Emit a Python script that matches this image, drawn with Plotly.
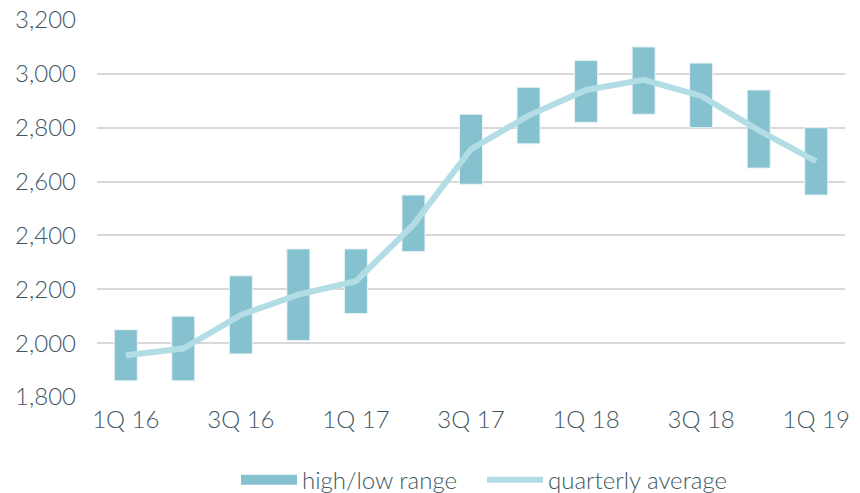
import plotly.graph_objects as go

categories = ["1Q 16", "2Q 16", "3Q 16", "4Q 16", "1Q 17", "2Q 17", "3Q 17",
              "4Q 17", "1Q 18", "2Q 18", "3Q 18", "4Q 18", "1Q 19"]
low = [1860, 1860, 1960, 2010, 2110, 2340, 2590, 2740, 2820, 2850, 2800, 2650, 2550]
high = [2050, 2100, 2250, 2350, 2350, 2550, 2850, 2950, 3050, 3100, 3040, 2940, 2800]
average = [1955, 1980, 2105, 2180, 2230, 2440, 2720, 2845, 2940, 2978, 2918, 2790, 2675]
tick_labels = categories[::2]

BAR = "#86c1cf"
LINE = "#b3dde4"
TEXT = "#3e5863"
FONT = "Lato"

fig = go.Figure()
fig.add_trace(go.Bar(
    x=categories, y=[h - l for h, l in zip(high, low)], base=low,
    name="high/low range", marker=dict(color=BAR, line=dict(color="#e8f4f7", width=1)),
    width=0.4, showlegend=False,
))
# legend swatch for the range bars (wide rectangle like the reference)
fig.add_trace(go.Scatter(
    x=[None], y=[None], name="high/low range", mode="lines",
    line=dict(color=BAR, width=16), legend="legend",
))
fig.add_trace(go.Scatter(
    x=categories, y=average, name="quarterly average", mode="lines",
    line=dict(color=LINE, width=6), legend="legend2",
))

legend_common = dict(
    orientation="h", xref="container", xanchor="left",
    y=0.026, yref="container", yanchor="middle",
    font=dict(size=24, color=TEXT, weight=300), itemwidth=56,
    bgcolor="rgba(0,0,0,0)",
)

fig.update_layout(
    width=860, height=493,
    margin=dict(l=97, r=15, t=20, b=96, autoexpand=False),
    plot_bgcolor="white", paper_bgcolor="white",
    font=dict(family=FONT, size=24, color=TEXT, weight=300),
    showlegend=True,
    legend=dict(x=236 / 860, **legend_common),
    legend2=dict(x=482 / 860, **legend_common),
    bargap=0.6,
)
fig.update_xaxes(
    type="category", tickvals=tick_labels, ticktext=tick_labels,
    showgrid=False, showline=False, zeroline=False, ticks="",
    ticklabelstandoff=6, range=[-0.5, 12.5], automargin=False,
)
fig.update_yaxes(
    range=[1800, 3200], dtick=200, tickformat=",", showgrid=True,
    gridcolor="#d9d9d9", gridwidth=2, zeroline=False, showline=False,
    ticks="", ticklabelstandoff=20, automargin=False,
)

fig.write_html("out.html")
